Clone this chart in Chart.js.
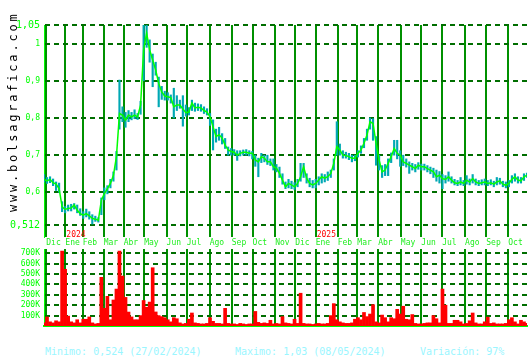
<!DOCTYPE html>
<html>
<head>
<meta charset="utf-8">
<script src="https://cdn.jsdelivr.net/npm/chart.js@4.4.1/dist/chart.umd.min.js"></script>
<style>
    body { margin: 0; background: #fff; width: 530px; height: 360px; overflow: hidden; position: relative; font-family: "DejaVu Sans Mono", monospace; }
    #priceChart { position: absolute; left: 0; top: 0; }
    #volChart { position: absolute; left: 0; top: 240px; }
    .site { position: absolute; left: -87px; top: 104px; width: 200px; height: 16px; line-height: 16px; font-size: 12px; letter-spacing: 2.8px; text-align: center; color: #000; transform: rotate(-90deg); }
    .stat { position: absolute; top: 346px; font-size: 10px; line-height: 12px; color: #9af6ff; white-space: pre; }
</style>
</head>
<body>
<canvas id="priceChart" width="530" height="250"></canvas>
<canvas id="volChart" width="530" height="90"></canvas>
<div class="site">www.bolsagrafica.com</div>
<div class="stat" style="left:45px">Minimo: 0,524 (27/02/2024)</div>
<div class="stat" style="left:235px">Maximo: 1,03 (08/05/2024)</div>
<div class="stat" style="left:420px">Variación: 97%</div>

<script>
// ========== DATA ========== //
const closes = [
    0.635, 0.631, 0.635, 0.626, 0.622, 0.610, 0.561, 0.554, 0.557, 0.558,
    0.566, 0.552, 0.543, 0.539, 0.543, 0.537, 0.530, 0.528, 0.525, 0.579,
    0.597, 0.610, 0.624, 0.646, 0.696, 0.812, 0.808, 0.794, 0.808, 0.803,
    0.808, 0.803, 0.835, 0.983, 1.028, 0.983, 0.956, 0.929, 0.893, 0.870,
    0.859, 0.857, 0.855, 0.830, 0.835, 0.835, 0.824, 0.814, 0.816, 0.840,
    0.827, 0.829, 0.827, 0.820, 0.816, 0.803, 0.776, 0.750, 0.755, 0.746,
    0.727, 0.714, 0.710, 0.708, 0.700, 0.705, 0.708, 0.708, 0.705, 0.705,
    0.687, 0.682, 0.696, 0.692, 0.682, 0.682, 0.669, 0.665, 0.651, 0.633,
    0.615, 0.624, 0.620, 0.615, 0.624, 0.642, 0.669, 0.638, 0.624, 0.620,
    0.624, 0.633, 0.642, 0.638, 0.642, 0.651, 0.678, 0.723, 0.714, 0.700,
    0.699, 0.696, 0.692, 0.692, 0.705, 0.714, 0.732, 0.754, 0.790, 0.785,
    0.732, 0.687, 0.655, 0.660, 0.678, 0.696, 0.718, 0.705, 0.700, 0.682,
    0.678, 0.673, 0.669, 0.664, 0.673, 0.669, 0.669, 0.664, 0.660, 0.655,
    0.642, 0.646, 0.637, 0.635, 0.642, 0.633, 0.626, 0.624, 0.628, 0.624,
    0.633, 0.628, 0.637, 0.628, 0.624, 0.626, 0.628, 0.624, 0.626, 0.622,
    0.628, 0.631, 0.622, 0.619, 0.624, 0.635, 0.642, 0.633, 0.631, 0.642,
    0.646
];
const highs = [
    0.648, 0.640, 0.642, 0.636, 0.628, 0.625, 0.575, 0.562, 0.566, 0.568,
    0.570, 0.566, 0.556, 0.548, 0.555, 0.548, 0.540, 0.536, 0.532, 0.585,
    0.612, 0.618, 0.635, 0.655, 0.710, 0.902, 0.830, 0.815, 0.820, 0.815,
    0.822, 0.812, 0.845, 1.050, 1.050, 1.010, 0.972, 0.950, 0.910, 0.885,
    0.872, 0.868, 0.862, 0.880, 0.860, 0.848, 0.860, 0.835, 0.828, 0.848,
    0.840, 0.838, 0.836, 0.830, 0.825, 0.812, 0.795, 0.770, 0.775, 0.758,
    0.745, 0.722, 0.718, 0.715, 0.712, 0.712, 0.714, 0.715, 0.712, 0.710,
    0.700, 0.692, 0.705, 0.700, 0.700, 0.690, 0.690, 0.675, 0.668, 0.650,
    0.628, 0.635, 0.630, 0.626, 0.635, 0.678, 0.678, 0.650, 0.638, 0.632,
    0.635, 0.642, 0.650, 0.648, 0.655, 0.660, 0.690, 0.790, 0.730, 0.712,
    0.708, 0.705, 0.700, 0.700, 0.712, 0.725, 0.745, 0.770, 0.800, 0.798,
    0.750, 0.700, 0.672, 0.675, 0.690, 0.706, 0.740, 0.740, 0.712, 0.700,
    0.690, 0.682, 0.678, 0.675, 0.680, 0.676, 0.676, 0.672, 0.668, 0.665,
    0.660, 0.656, 0.648, 0.645, 0.655, 0.642, 0.635, 0.632, 0.640, 0.632,
    0.645, 0.636, 0.648, 0.636, 0.632, 0.634, 0.636, 0.632, 0.634, 0.630,
    0.640, 0.638, 0.630, 0.628, 0.632, 0.645, 0.650, 0.642, 0.640, 0.650,
    0.652
];
const lows = [
    0.628, 0.624, 0.626, 0.618, 0.605, 0.600, 0.548, 0.545, 0.550, 0.550,
    0.555, 0.545, 0.538, 0.530, 0.534, 0.528, 0.515, 0.522, 0.520, 0.540,
    0.580, 0.596, 0.612, 0.630, 0.660, 0.770, 0.790, 0.775, 0.790, 0.795,
    0.798, 0.796, 0.810, 0.900, 0.990, 0.950, 0.884, 0.915, 0.830, 0.850,
    0.848, 0.848, 0.840, 0.800, 0.820, 0.826, 0.778, 0.805, 0.808, 0.820,
    0.818, 0.820, 0.818, 0.812, 0.808, 0.780, 0.714, 0.735, 0.740, 0.730,
    0.718, 0.700, 0.700, 0.700, 0.686, 0.698, 0.700, 0.700, 0.698, 0.690,
    0.670, 0.642, 0.680, 0.682, 0.675, 0.672, 0.660, 0.655, 0.640, 0.622,
    0.610, 0.612, 0.610, 0.608, 0.615, 0.630, 0.640, 0.625, 0.615, 0.612,
    0.612, 0.620, 0.625, 0.628, 0.632, 0.640, 0.660, 0.700, 0.700, 0.692,
    0.692, 0.688, 0.682, 0.685, 0.695, 0.705, 0.720, 0.740, 0.770, 0.740,
    0.673, 0.660, 0.640, 0.645, 0.645, 0.680, 0.700, 0.690, 0.670, 0.672,
    0.668, 0.651, 0.660, 0.655, 0.662, 0.660, 0.660, 0.655, 0.650, 0.640,
    0.630, 0.625, 0.610, 0.625, 0.630, 0.625, 0.620, 0.618, 0.620, 0.618,
    0.622, 0.620, 0.625, 0.620, 0.618, 0.620, 0.620, 0.618, 0.620, 0.615,
    0.620, 0.622, 0.615, 0.612, 0.615, 0.625, 0.630, 0.625, 0.625, 0.632,
    0.640
];
// volumen en miles
const volumes = [
    30, 87, 40, 30, 50, 40, 720, 545, 95, 40,
    30, 60, 30, 65, 65, 87, 30, 20, 25, 468,
    170, 285, 60, 250, 355, 720, 480, 275, 134, 87,
    60, 60, 100, 245, 180, 230, 560, 135, 100, 90,
    80, 60, 40, 80, 70, 30, 20, 25, 65, 125,
    30, 25, 20, 20, 25, 80, 45, 25, 25, 20,
    170, 25, 20, 20, 15, 25, 20, 15, 20, 20,
    140, 35, 25, 30, 25, 55, 20, 25, 20, 90,
    30, 25, 20, 65, 25, 315, 25, 20, 20, 15,
    20, 25, 20, 20, 25, 100, 215, 60, 40, 30,
    25, 25, 30, 65, 80, 60, 130, 90, 115, 205,
    40, 30, 105, 80, 40, 80, 70, 160, 115, 190,
    65, 60, 110, 25, 20, 20, 25, 30, 30, 100,
    70, 30, 355, 200, 25, 25, 55, 55, 40, 20,
    25, 50, 125, 30, 20, 20, 40, 85, 25, 30,
    20, 20, 20, 25, 60, 80, 40, 20, 55, 40,
    25
];

const monthLabels = ['Dic', 'Ene', 'Feb', 'Mar', 'Abr', 'May', 'Jun', 'Jul', 'Ago', 'Sep', 'Oct', 'Nov',
                     'Dic', 'Ene', 'Feb', 'Mar', 'Abr', 'May', 'Jun', 'Jul', 'Ago', 'Sep', 'Oct'];
// first session of each month (session index)
const monthTicks = [0.76, 7.06, 12.82, 19.77, 26.4, 33.2, 40.6, 47.3, 54.9, 62.2, 69.1, 76.6,
                    83.2, 90.0, 97.3, 103.8, 110.7, 118.2, 125.0, 131.9, 139.5, 146.5, 153.8];
const yearLabels = ['2024', '2025'];
const yearMonthIndex = [1, 13];
const priceTicks = [0.512, 0.6, 0.7, 0.8, 0.9, 1, 1.05];
const volTicks = [100, 200, 300, 400, 500, 600, 700];

const MONO = 'DejaVu Sans Mono';
const lastIdx = closes.length - 1;

// fixed axis sizes so both panels line up
function fitX(h) {
    return s => { s.height = h; s.paddingLeft = 0; s.paddingRight = 0; };
}
function fitY(s) { s.width = 44; s.paddingTop = 0; s.paddingBottom = 0; }

// ========== YEAR MARKS ========== //
const yearPlugin = {
    id: 'yearMarks',
    afterDraw(chart) {
        const ctx = chart.ctx;
        const xs = chart.scales.x;
        ctx.save();
        ctx.fillStyle = '#ff0000';
        ctx.font = '8px ' + MONO;
        ctx.textAlign = 'left';
        ctx.textBaseline = 'middle';
        yearLabels.forEach((txt, k) => {
            ctx.fillText(txt, xs.getPixelForValue(monthTicks[yearMonthIndex[k]]) + 1, 235);
        });
        ctx.restore();
    }
};

// ========== PRICE CHART ========== //
new Chart(document.getElementById('priceChart'), {
    type: 'bar',
    data: {
        datasets: [
            {
                type: 'line',
                data: closes.map((v, i) => ({ x: i, y: v })),
                borderColor: '#00ff00',
                borderWidth: 1.5,
                pointRadius: 0
            },
            {
                type: 'bar',
                data: lows.map((v, i) => ({ x: i, y: [v, highs[i]] })),
                backgroundColor: '#00a8b4',
                barThickness: 1.5
            }
        ]
    },
    options: {
        responsive: false,
        animation: false,
        layout: { padding: { top: 25, right: 3, bottom: 0, left: 0 } },
        plugins: { legend: { display: false }, tooltip: { enabled: false } },
        scales: {
            x: {
                type: 'linear', min: 0, max: lastIdx, offset: false,
                afterBuildTicks: s => { s.ticks = monthTicks.map(v => ({ value: v })); },
                afterFit: fitX(13),
                ticks: {
                    callback: (v, i) => monthLabels[i],
                    color: '#22ee22', font: { family: MONO, size: 8 },
                    align: 'start', padding: 1, autoSkip: false, maxRotation: 0
                },
                grid: { color: '#009000', lineWidth: 2, drawTicks: false, offset: false },
                border: { display: false }
            },
            y: {
                min: 0.48, max: 1.05,
                afterBuildTicks: s => { s.ticks = priceTicks.map(v => ({ value: v })); },
                afterFit: fitY,
                ticks: {
                    callback: v => String(v).replace('.', ','),
                    color: '#00ff00',
                    font: c => ({ family: MONO, size: (c.tick && (c.tick.value === 0.512 || c.tick.value === 1.05)) ? 10 : 8 }),
                    padding: 4
                },
                grid: { color: '#006e00', lineWidth: 2, drawTicks: false },
                border: { color: '#00ff00', width: 1, dash: [5, 4] }
            }
        }
    },
    plugins: [yearPlugin]
});

// ========== VOLUME CHART ========== //
new Chart(document.getElementById('volChart'), {
    type: 'bar',
    data: {
        datasets: [{
            data: volumes.map((v, i) => ({ x: i, y: v })),
            backgroundColor: '#ff0000',
            barPercentage: 1,
            categoryPercentage: 1
        }]
    },
    options: {
        responsive: false,
        animation: false,
        layout: { padding: { top: 9, right: 3, bottom: 4, left: 0 } },
        plugins: { legend: { display: false }, tooltip: { enabled: false } },
        scales: {
            x: {
                type: 'linear', min: 0, max: lastIdx, offset: false,
                afterBuildTicks: s => { s.ticks = monthTicks.map(v => ({ value: v })); },
                afterFit: fitX(0),
                ticks: { display: false },
                grid: { color: '#009000', lineWidth: 2, drawTicks: false, offset: false },
                border: { color: '#00ff00', width: 2 }
            },
            y: {
                min: 0, max: 740,
                afterBuildTicks: s => { s.ticks = volTicks.map(v => ({ value: v })); },
                afterFit: fitY,
                ticks: {
                    callback: v => v + 'K',
                    color: '#00ff00', font: { family: MONO, size: 8 }, padding: 4
                },
                grid: { color: '#006e00', lineWidth: 2, drawTicks: false },
                border: { color: '#00ff00', width: 1, dash: [5, 4] }
            }
        }
    }
});
</script>
</body>
</html>
